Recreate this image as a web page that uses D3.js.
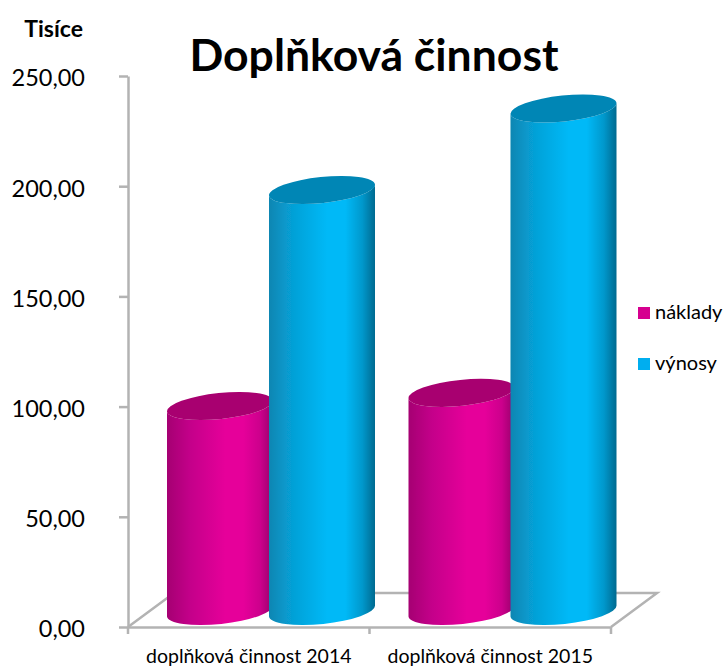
<!DOCTYPE html>
<meta charset="utf-8">
<style>
html, body { margin: 0; background: #fff; }
text { font-family: Lato, sans-serif; fill: #000; }
.axis path, .axis line { stroke: #b3b3b3; stroke-width: 2.5px; fill: none; }
.axis text { fill: #000; }
.axis--y text { font-size: 23.5px; }
.axis--x text { font-size: 19.5px; }
.floor { stroke: #b3b3b3; stroke-width: 2.5px; fill: none; }
</style>
<svg width="724" height="666"></svg>
<script src="https://d3js.org/d3.v7.min.js"></script>
<script>
var categories = ["doplňková činnost 2014", "doplňková činnost 2015"];
var seriesNames = ["náklady", "výnosy"];
var naklady = [93, 99];
var vynosy = [191, 228];
var yTicks = [0, 50, 100, 150, 200, 250];

var colors = {
  "náklady": { left: "#a50072", near: "#c4008a", mid: "#e6009a", far: "#cc008c", right: "#96006a", top: "#a8006f", legend: "#d6008f" },
  "výnosy": { left: "#0a86b2", near: "#06a0d6", mid: "#00b9f7", far: "#0098cc", right: "#006a90", top: "#0086b5", legend: "#00aeef" }
};

var svg = d3.select("svg");
var defs = svg.append("defs");

var x0 = d3.scaleBand().domain(categories).range([128, 611]);
// neighbouring cylinders overlap a little, the later one sits on top
var x1 = d3.scalePoint().domain(seriesNames).range([17, 119]);
var cylW = 106;
var y = d3.scaleLinear().domain([0, 250]).range([627, 76]);

// how far the floor runs back into the picture
var depth = { dx: 46, dy: -34 };
// cylinders stand on the middle of the floor
var standX = 22, standY = -16;
var tilt = 6, ry = 13;

var fmt = d3.formatLocale({ decimal: ",", thousands: " ", grouping: [3], currency: ["", ""] }).format(".2f");

seriesNames.forEach(function(name) {
  var c = colors[name];
  var grad = defs.append("linearGradient").attr("id", "grad-" + seriesNames.indexOf(name));
  grad.append("stop").attr("offset", "0%").attr("stop-color", c.left);
  grad.append("stop").attr("offset", "22%").attr("stop-color", c.near);
  grad.append("stop").attr("offset", "55%").attr("stop-color", c.mid);
  grad.append("stop").attr("offset", "72%").attr("stop-color", c.mid);
  grad.append("stop").attr("offset", "88%").attr("stop-color", c.far);
  grad.append("stop").attr("offset", "100%").attr("stop-color", c.right);
});
defs.append("filter").attr("id", "soft").append("feGaussianBlur").attr("stdDeviation", 0.6);

// floor
var r0 = x0.range();
svg.append("path")
  .attr("class", "floor")
  .attr("d", d3.line()([
    [r0[0], y(0)],
    [r0[0] + depth.dx, y(0) + depth.dy],
    [r0[1] + depth.dx, y(0) + depth.dy],
    [r0[1], y(0)]
  ]));

svg.append("g")
  .attr("class", "axis axis--y")
  .attr("transform", "translate(128,0)")
  .call(d3.axisLeft(y).tickValues(yTicks).tickFormat(fmt).tickSize(9).tickSizeOuter(0).tickPadding(34))
  .selectAll("text").attr("dy", "0.42em");

svg.append("g")
  .attr("class", "axis axis--x")
  .attr("transform", "translate(0,627)")
  .call(d3.axisBottom(x0).tickSize(0).tickPadding(22));

// category separators on the x axis
svg.select(".axis--x").selectAll("line.sep")
  .data(x0.domain().map(function(d) { return x0(d); }).concat(r0[1]))
  .enter().append("line")
  .attr("class", "sep")
  .attr("x1", function(d) { return d; })
  .attr("x2", function(d) { return d; })
  .attr("y1", 0)
  .attr("y2", 7);

// cylinders
var rows = [];
categories.forEach(function(cat, i) {
  rows.push({ cat: cat, name: "náklady", value: naklady[i] });
  rows.push({ cat: cat, name: "výnosy", value: vynosy[i] });
});

function cylinder(d) {
  var left = x0(d.cat) + x1(d.name) + standX;
  var w = cylW;
  var rx = w / 2;
  var dy = rx * Math.tan(tilt * Math.PI / 180);
  var rr = rx / Math.cos(tilt * Math.PI / 180);
  var top = y(d.value) + standY, base = y(0) + standY;
  var arc = "A" + rr + " " + ry + " " + (-tilt) + " 0 ";
  return {
    body: "M" + left + " " + (top + dy) +
      "L" + left + " " + (base + dy) +
      arc + "0 " + (left + w) + " " + (base - dy) +
      "L" + (left + w) + " " + (top - dy) +
      arc + "1 " + left + " " + (top + dy) + "Z",
    cap: "M" + left + " " + (top + dy) +
      arc + "1 " + (left + w) + " " + (top - dy) +
      arc + "1 " + left + " " + (top + dy) + "Z"
  };
}

var cyl = svg.append("g").attr("filter", "url(#soft)")
  .selectAll("g").data(rows).enter().append("g");

cyl.append("path")
  .attr("d", function(d) { return cylinder(d).body; })
  .attr("fill", function(d) { return "url(#grad-" + seriesNames.indexOf(d.name) + ")"; });

cyl.append("path")
  .attr("d", function(d) { return cylinder(d).cap; })
  .attr("fill", function(d) { return colors[d.name].top; });

// titles
svg.append("text")
  .attr("x", 374).attr("y", 71)
  .attr("text-anchor", "middle")
  .style("font-size", "44.5px").style("font-weight", "700")
  .text("Doplňková činnost");

svg.append("text")
  .attr("x", 83).attr("y", 37)
  .attr("text-anchor", "end")
  .style("font-size", "23px").style("font-weight", "700")
  .text("Tisíce");

// legend
var legendY = d3.scalePoint().domain(seriesNames).range([313, 364]);
var legend = svg.append("g").selectAll("g").data(seriesNames).enter().append("g")
  .attr("transform", function(d) { return "translate(638," + legendY(d) + ")"; });

legend.append("rect")
  .attr("y", -6).attr("width", 12).attr("height", 12)
  .attr("fill", function(d) { return colors[d].legend; });

legend.append("text")
  .attr("x", 17).attr("y", 6)
  .style("font-size", "20px")
  .text(function(d) { return d; });
</script>
